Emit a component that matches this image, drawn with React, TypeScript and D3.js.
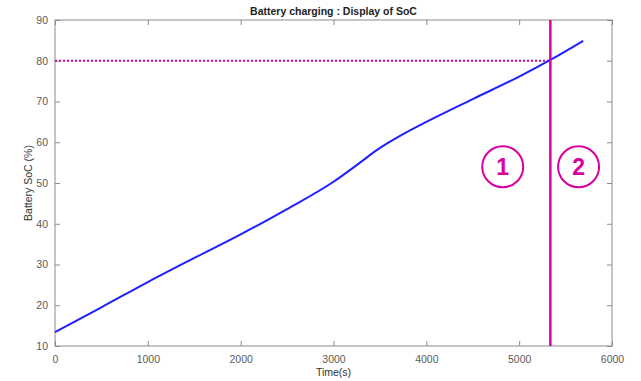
import React, { useRef, useEffect } from "react";
import * as d3 from "d3";

// SoC curve
const timeS = [0, 500, 1000, 1500, 2000, 2500, 3000, 3250, 3500, 3750, 4000, 4500, 5000, 5336, 5690];
const socPct = [13.4, 19.5, 25.7, 31.6, 37.4, 43.6, 50.3, 54.4, 58.6, 62.0, 65.0, 70.6, 76.1, 80.2, 84.9];

const xTicks = [0, 1000, 2000, 3000, 4000, 5000, 6000];
const yTicks = [10, 20, 30, 40, 50, 60, 70, 80, 90];

// end of charge marker and the two phase labels
const cutTime = 5336;
const cutSoc = 80;
const phaseLabels = ["1", "2"];
const phaseTimes = [4823, 5640];
const phaseSoc = [54, 54];

const MAGENTA = "#d9009f";
const FONT = "'Liberation Sans', Arial, Helvetica, sans-serif";

export default function App() {
  const svgRef = useRef<SVGSVGElement>(null);

  useEffect(() => {
    const svg = d3.select(svgRef.current);
    svg.selectAll("*").remove();

    const width = 641;
    const height = 381;
    const margin = { top: 20, right: 29, bottom: 35, left: 55 };
    const innerW = width - margin.left - margin.right;
    const innerH = height - margin.top - margin.bottom;

    svg.attr("width", width).attr("height", height);

    const g = svg.append("g").attr("transform", `translate(${margin.left},${margin.top})`);

    const x = d3.scaleLinear().domain([0, 6000]).range([0, innerW]);
    const y = d3.scaleLinear().domain([10, 90]).range([innerH, 0]);

    const axisColor = "#8c8c8c";
    const labelColor = "#5a5a5a";

    const styleAxis = (sel: any) => {
      sel.select(".domain").remove();
      sel.selectAll("line").attr("stroke", axisColor);
      sel.selectAll("text").attr("fill", labelColor).style("font-family", FONT).style("font-size", "10.5px");
    };

    // Box
    g.append("rect")
      .attr("width", innerW)
      .attr("height", innerH)
      .attr("fill", "none")
      .attr("stroke", axisColor)
      .attr("stroke-width", 1);

    // Axes, ticks pointing inward
    g.append("g")
      .attr("transform", `translate(0,${innerH})`)
      .call(d3.axisBottom(x).tickValues(xTicks).tickFormat(d3.format("d")).tickSize(-5).tickPadding(10))
      .call(styleAxis);
    g.append("g")
      .call(d3.axisTop(x).tickValues(xTicks).tickSize(-5).tickFormat(() => ""))
      .call(styleAxis);
    g.append("g")
      .call(d3.axisLeft(y).tickValues(yTicks).tickSize(-5).tickPadding(7))
      .call(styleAxis);
    g.append("g")
      .attr("transform", `translate(${innerW},0)`)
      .call(d3.axisRight(y).tickValues(yTicks).tickSize(-5).tickFormat(() => ""))
      .call(styleAxis);

    // Dotted 80% line
    g.append("line")
      .attr("x1", x(0))
      .attr("x2", x(cutTime))
      .attr("y1", y(cutSoc))
      .attr("y2", y(cutSoc))
      .attr("stroke", MAGENTA)
      .attr("stroke-width", 2)
      .attr("stroke-dasharray", "2 2");

    // SoC curve
    const pts = timeS.map((t, i) => [t, socPct[i]] as [number, number]);
    g.append("path")
      .datum(pts)
      .attr("fill", "none")
      .attr("stroke", "#1f1fff")
      .attr("stroke-width", 2)
      .attr("d", d3.line<[number, number]>()
        .x((d) => x(d[0]))
        .y((d) => y(d[1]))
        .curve(d3.curveMonotoneX));

    // Vertical cut line
    g.append("line")
      .attr("x1", x(cutTime))
      .attr("x2", x(cutTime))
      .attr("y1", 0)
      .attr("y2", innerH)
      .attr("stroke", MAGENTA)
      .attr("stroke-width", 2.5);

    // Phase circles
    phaseLabels.forEach((lab, i) => {
      const cx = x(phaseTimes[i]);
      const cy = y(phaseSoc[i]);
      g.append("circle")
        .attr("cx", cx)
        .attr("cy", cy)
        .attr("r", 20.5)
        .attr("fill", "none")
        .attr("stroke", MAGENTA)
        .attr("stroke-width", 2);
      g.append("text")
        .attr("x", cx)
        .attr("y", cy)
        .attr("dy", "0.36em")
        .attr("text-anchor", "middle")
        .attr("fill", MAGENTA)
        .style("font-family", FONT)
        .style("font-weight", "bold")
        .style("font-size", "23px")
        .text(lab);
    });

    // Title and labels
    svg.append("text")
      .attr("x", margin.left + innerW / 2)
      .attr("y", 15)
      .attr("text-anchor", "middle")
      .attr("fill", "#222")
      .style("font-family", FONT)
      .style("font-weight", "bold")
      .style("font-size", "10.5px")
      .text("Battery charging : Display of SoC");

    svg.append("text")
      .attr("x", margin.left + innerW / 2)
      .attr("y", 376)
      .attr("text-anchor", "middle")
      .attr("fill", "#333")
      .style("font-family", FONT)
      .style("font-size", "10.5px")
      .text("Time(s)");

    svg.append("text")
      .attr("transform", `translate(32,${margin.top + innerH / 2}) rotate(-90)`)
      .attr("text-anchor", "middle")
      .attr("fill", "#333")
      .style("font-family", FONT)
      .style("font-size", "10.5px")
      .text("Battery SoC (%)");
  }, []);

  return <svg ref={svgRef} style={{ position: "absolute", left: 0, top: 0, background: "#fff" }} />;
}
